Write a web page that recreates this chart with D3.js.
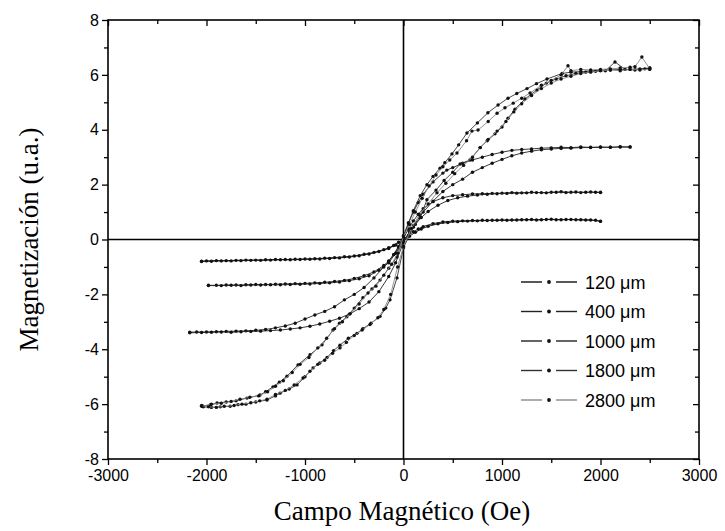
<!DOCTYPE html>
<html>
<head>
<meta charset="utf-8">
<script src="https://cdn.jsdelivr.net/npm/d3@7"></script>
<style>
  body { margin: 0; background: #fff; }
</style>
</head>
<body>
<script>
// hysteresis loops, field (Oe) vs magnetization (u.a.)
// each sample: descending branch (+H -> -H) and ascending branch (-H -> +H)
var desc120 = [[2000,0.67],[1900,0.71],[1800,0.72],[1700,0.73],[1600,0.72],[1500,0.74],[1400,0.72],[1300,0.73],[1200,0.72],[1100,0.71],[1000,0.71],[900,0.70],[800,0.70],[700,0.69],[600,0.68],[500,0.67],[400,0.64],[300,0.58],[200,0.47],[150,0.38],[100,0.28],[50,0.15],[0,0.02],[-50,-0.10],[-100,-0.22],[-150,-0.30],[-200,-0.37],[-300,-0.47],[-400,-0.54],[-500,-0.60],[-600,-0.63],[-700,-0.66],[-800,-0.68],[-900,-0.70],[-1000,-0.71],[-1100,-0.72],[-1200,-0.73],[-1300,-0.73],[-1400,-0.74],[-1500,-0.75],[-1600,-0.75],[-1700,-0.76],[-1800,-0.77],[-1900,-0.77],[-2000,-0.78],[-2050,-0.79]];
var asc120 = [[-2050,-0.80],[-1950,-0.79],[-1850,-0.78],[-1750,-0.78],[-1650,-0.77],[-1550,-0.76],[-1450,-0.76],[-1350,-0.75],[-1250,-0.74],[-1150,-0.74],[-1050,-0.73],[-950,-0.72],[-850,-0.71],[-750,-0.69],[-650,-0.67],[-550,-0.64],[-450,-0.59],[-350,-0.53],[-250,-0.44],[-150,-0.33],[-80,-0.20],[0,-0.05],[60,0.12],[120,0.26],[180,0.38],[250,0.48],[350,0.57],[450,0.62],[550,0.65],[650,0.67],[750,0.68],[850,0.69],[950,0.70],[1050,0.70],[1150,0.71],[1250,0.72],[1350,0.71],[1450,0.73],[1550,0.72],[1650,0.73],[1750,0.72],[1850,0.71],[1950,0.70],[2000,0.66]];

var desc400 = [[2000,1.72],[1900,1.73],[1800,1.71],[1700,1.72],[1600,1.74],[1500,1.72],[1400,1.71],[1300,1.72],[1200,1.70],[1100,1.71],[1000,1.69],[900,1.68],[800,1.67],[700,1.66],[600,1.63],[500,1.60],[400,1.52],[300,1.38],[200,1.12],[150,0.92],[100,0.68],[50,0.38],[0,0.05],[-50,-0.30],[-100,-0.55],[-150,-0.78],[-200,-0.95],[-300,-1.18],[-400,-1.32],[-500,-1.42],[-600,-1.49],[-700,-1.53],[-800,-1.56],[-900,-1.58],[-1000,-1.60],[-1100,-1.61],[-1200,-1.62],[-1300,-1.63],[-1400,-1.64],[-1500,-1.64],[-1600,-1.65],[-1700,-1.66],[-1800,-1.66],[-1900,-1.67],[-1980,-1.67]];
var asc400 = [[-1980,-1.68],[-1850,-1.68],[-1750,-1.67],[-1650,-1.68],[-1550,-1.66],[-1450,-1.66],[-1350,-1.65],[-1250,-1.65],[-1150,-1.64],[-1050,-1.63],[-950,-1.62],[-850,-1.60],[-750,-1.58],[-650,-1.55],[-550,-1.50],[-450,-1.43],[-350,-1.32],[-250,-1.12],[-150,-0.85],[-80,-0.50],[0,-0.10],[60,0.28],[120,0.55],[180,0.80],[250,1.02],[350,1.25],[450,1.42],[550,1.52],[650,1.58],[750,1.62],[850,1.65],[950,1.67],[1050,1.68],[1150,1.69],[1250,1.70],[1350,1.71],[1450,1.70],[1550,1.72],[1650,1.71],[1750,1.73],[1850,1.72],[1950,1.72],[2000,1.71]];

var desc1000 = [[2300,3.37],[2200,3.38],[2100,3.36],[2000,3.37],[1900,3.36],[1800,3.37],[1700,3.35],[1600,3.36],[1500,3.34],[1400,3.33],[1300,3.30],[1200,3.28],[1100,3.25],[1000,3.18],[900,3.10],[800,3.00],[700,2.90],[600,2.78],[500,2.62],[440,2.53],[400,2.42],[300,2.10],[200,1.65],[150,1.35],[100,1.00],[50,0.60],[0,0.10],[-50,-0.25],[-100,-0.55],[-150,-0.80],[-200,-1.00],[-300,-1.40],[-400,-1.75],[-500,-2.00],[-600,-2.20],[-700,-2.45],[-800,-2.62],[-900,-2.75],[-1000,-2.90],[-1100,-3.05],[-1200,-3.15],[-1300,-3.22],[-1400,-3.28],[-1500,-3.31],[-1600,-3.33],[-1700,-3.34],[-1800,-3.35],[-1900,-3.36],[-2000,-3.37],[-2100,-3.37],[-2170,-3.38]];
var asc1000 = [[-2170,-3.40],[-2050,-3.39],[-1950,-3.38],[-1850,-3.37],[-1750,-3.38],[-1650,-3.36],[-1550,-3.35],[-1450,-3.34],[-1350,-3.32],[-1250,-3.30],[-1150,-3.26],[-1050,-3.22],[-950,-3.16],[-850,-3.08],[-750,-2.98],[-650,-2.87],[-550,-2.72],[-450,-2.52],[-350,-2.28],[-250,-1.90],[-150,-1.35],[-80,-0.85],[0,-0.10],[100,0.50],[200,1.00],[300,1.40],[400,1.75],[500,2.00],[600,2.20],[700,2.45],[800,2.62],[900,2.78],[1000,2.92],[1100,3.05],[1200,3.15],[1300,3.22],[1400,3.27],[1500,3.30],[1600,3.32],[1700,3.33],[1800,3.35],[1900,3.35],[2000,3.36],[2100,3.36],[2200,3.37],[2300,3.37]];

var desc1800 = [[2500,6.25],[2400,6.22],[2300,6.20],[2200,6.20],[2100,6.18],[2000,6.17],[1900,6.15],[1800,6.12],[1700,6.10],[1610,6.05],[1457,5.85],[1350,5.68],[1254,5.50],[1150,5.32],[1061,5.15],[960,4.90],[857,4.62],[750,4.25],[644,3.88],[560,3.45],[492,3.12],[420,2.80],[371,2.60],[300,2.30],[238,2.00],[170,1.60],[100,1.05],[50,0.60],[0,0.15],[-66,-0.64],[-150,-1.05],[-238,-1.48],[-320,-1.80],[-412,-2.12],[-500,-2.50],[-575,-2.82],[-650,-3.05],[-716,-3.30],[-827,-3.84],[-949,-4.20],[-1071,-4.57],[-1183,-4.98],[-1260,-5.20],[-1325,-5.37],[-1400,-5.55],[-1457,-5.67],[-1589,-5.78],[-1700,-5.88],[-1800,-5.92],[-1893,-5.96],[-1960,-6.02],[-2033,-6.08]];
var asc1800 = [[-2033,-6.10],[-1950,-6.12],[-1860,-6.10],[-1760,-6.08],[-1680,-6.02],[-1600,-6.00],[-1500,-5.92],[-1386,-5.85],[-1300,-5.70],[-1254,-5.60],[-1160,-5.45],[-1081,-5.30],[-1000,-5.00],[-918,-4.68],[-850,-4.50],[-776,-4.30],[-710,-4.05],[-645,-3.85],[-560,-3.60],[-472,-3.42],[-412,-3.25],[-330,-3.05],[-238,-2.80],[-180,-2.50],[-137,-2.20],[-66,-1.40],[0,-0.30],[100,0.45],[170,0.80],[238,1.45],[330,1.80],[412,2.15],[500,2.45],[575,2.75],[675,2.90],[777,3.35],[850,3.60],[929,3.85],[1000,4.10],[1061,4.42],[1132,4.75],[1233,5.12],[1355,5.45],[1450,5.70],[1550,5.85],[1650,5.97],[1750,6.05],[1850,6.10],[1950,6.13],[2050,6.15],[2147,6.47],[2250,6.20],[2350,6.18],[2450,6.22],[2500,6.25]];

var desc2800 = [[2500,6.22],[2420,6.65],[2350,6.30],[2300,6.28],[2200,6.25],[2100,6.22],[2000,6.20],[1900,6.18],[1800,6.20],[1700,6.15],[1670,6.33],[1600,6.00],[1500,5.80],[1400,5.62],[1285,5.34],[1200,5.15],[1114,4.97],[1030,4.80],[950,4.60],[860,4.30],[757,3.99],[695,3.95],[640,3.60],[543,3.15],[470,2.90],[400,2.65],[330,2.35],[260,1.95],[190,1.50],[120,1.00],[60,0.55],[0,0.10],[-60,-0.50],[-120,-0.90],[-200,-1.30],[-280,-1.70],[-360,-1.95],[-450,-2.35],[-540,-2.70],[-620,-3.00],[-700,-3.25],[-780,-3.60],[-870,-3.95],[-960,-4.30],[-1050,-4.55],[-1130,-4.85],[-1220,-5.15],[-1300,-5.35],[-1380,-5.55],[-1470,-5.70],[-1560,-5.75],[-1660,-5.82],[-1750,-5.90],[-1850,-5.97],[-1950,-6.00],[-2050,-6.08]];
var asc2800 = [[-2050,-6.05],[-1980,-6.10],[-1900,-6.12],[-1820,-6.08],[-1720,-6.05],[-1640,-6.00],[-1550,-5.95],[-1460,-5.88],[-1386,-5.82],[-1300,-5.65],[-1200,-5.50],[-1110,-5.30],[-1020,-5.05],[-950,-4.80],[-870,-4.55],[-800,-4.40],[-720,-4.15],[-645,-3.95],[-580,-3.75],[-500,-3.50],[-420,-3.30],[-340,-3.10],[-260,-2.85],[-200,-2.55],[-130,-2.00],[-60,-1.00],[0,-0.25],[80,0.40],[160,0.90],[250,1.30],[340,1.70],[430,2.05],[520,2.40],[610,2.70],[700,3.00],[780,3.35],[860,3.65],[950,3.95],[1040,4.30],[1120,4.65],[1200,4.95],[1300,5.25],[1400,5.50],[1500,5.70],[1600,5.85],[1700,5.95],[1800,6.05],[1900,6.10],[2000,6.15],[2100,6.18],[2200,6.15],[2300,6.20],[2400,6.18],[2500,6.20]];

var labels = ["120 \u03bcm", "400 \u03bcm", "1000 \u03bcm", "1800 \u03bcm", "2800 \u03bcm"];
var loops = [[desc120, asc120], [desc400, asc400], [desc1000, asc1000], [desc1800, asc1800], [desc2800, asc2800]];
var lineColors = ["#111", "#222", "#222", "#333", "#888"];

var xTicks = [-3000, -2000, -1000, 0, 1000, 2000, 3000];
var xMinor = [-2500, -1500, -500, 500, 1500, 2500];
var yTicks = [-8, -6, -4, -2, 0, 2, 4, 6, 8];
var yMinor = [-7, -5, -3, -1, 1, 3, 5, 7];

var w = 725;
var h = 531;
var svg = d3.select("body").append("svg")
            .attr("width", w)
            .attr("height", h);

var x = d3.scaleLinear().domain([-3000, 3000]).range([108, 699]);
var y = d3.scaleLinear().domain([-8, 8]).range([459, 20]);

var sans = "'Liberation Sans', Arial, sans-serif";
var serif = "'Liberation Serif', 'Times New Roman', serif";
var plain = function(d) { return String(d); };   // hyphen minus like the original

// axes
function styleAxis(g) {
  g.select(".domain").remove();
  g.selectAll("line").attr("stroke", "#000").attr("stroke-width", 1.3);
  g.selectAll("text").attr("font-family", sans).attr("font-size", 16).attr("fill", "#000");
}

svg.append("g").attr("transform", "translate(0,459)")
   .call(d3.axisBottom(x).tickValues(xTicks).tickSize(6).tickPadding(5).tickFormat(plain))
   .call(styleAxis);
svg.append("g").attr("transform", "translate(0,459)")
   .call(d3.axisBottom(x).tickValues(xMinor).tickSize(4).tickFormat(""))
   .call(styleAxis);
svg.append("g").attr("transform", "translate(108,0)")
   .call(d3.axisLeft(y).tickValues(yTicks).tickSize(6).tickPadding(3).tickFormat(plain))
   .call(styleAxis);
svg.append("g").attr("transform", "translate(108,0)")
   .call(d3.axisLeft(y).tickValues(yMinor).tickSize(4).tickFormat(""))
   .call(styleAxis);
// mirror axes, ticks pointing in
svg.append("g").attr("transform", "translate(0,20)")
   .call(d3.axisTop(x).tickValues(xTicks).tickSize(-6).tickFormat(""))
   .call(styleAxis);
svg.append("g").attr("transform", "translate(0,20)")
   .call(d3.axisTop(x).tickValues(xMinor).tickSize(-4).tickFormat(""))
   .call(styleAxis);
svg.append("g").attr("transform", "translate(699,0)")
   .call(d3.axisRight(y).tickValues(yTicks).tickSize(-6).tickFormat(""))
   .call(styleAxis);
svg.append("g").attr("transform", "translate(699,0)")
   .call(d3.axisRight(y).tickValues(yMinor).tickSize(-4).tickFormat(""))
   .call(styleAxis);

// frame
svg.append("rect")
   .attr("x", 108).attr("y", 20)
   .attr("width", 699 - 108).attr("height", 459 - 20)
   .attr("fill", "none").attr("stroke", "#000").attr("stroke-width", 1.6);

// zero lines
svg.append("line")
   .attr("x1", x(-3000)).attr("x2", x(3000))
   .attr("y1", y(0)).attr("y2", y(0))
   .attr("stroke", "#000").attr("stroke-width", 1.6);
svg.append("line")
   .attr("x1", x(0)).attr("x2", x(0))
   .attr("y1", y(-8)).attr("y2", y(8))
   .attr("stroke", "#000").attr("stroke-width", 1.6);

// curves
var line = d3.line().x(function(d) { return x(d[0]); }).y(function(d) { return y(d[1]); });

loops.forEach(function(branches, i) {
  branches.forEach(function(b) {
    svg.append("path")
       .attr("d", line(b))
       .attr("fill", "none")
       .attr("stroke", lineColors[i])
       .attr("stroke-width", 0.9);
    svg.append("g").selectAll("circle")
       .data(b)
       .enter().append("circle")
       .attr("cx", function(d) { return x(d[0]); })
       .attr("cy", function(d) { return y(d[1]); })
       .attr("r", 1.7)
       .attr("fill", "#111");
  });
});

// legend
var legend = svg.append("g");
labels.forEach(function(t, i) {
  var ly = 282 + i * 29.5;
  legend.append("line").attr("x1", 521).attr("x2", 542).attr("y1", ly).attr("y2", ly)
        .attr("stroke", lineColors[i]).attr("stroke-width", 1.4);
  legend.append("line").attr("x1", 556).attr("x2", 577).attr("y1", ly).attr("y2", ly)
        .attr("stroke", lineColors[i]).attr("stroke-width", 1.4);
  legend.append("circle").attr("cx", 549).attr("cy", ly).attr("r", 1.9).attr("fill", "#111");
  legend.append("text").attr("x", 585).attr("y", ly + 6.5)
        .attr("font-family", sans).attr("font-size", 18).attr("fill", "#000")
        .text(t);
});

// axis titles
svg.append("text")
   .attr("x", 402).attr("y", 520)
   .attr("text-anchor", "middle")
   .attr("font-family", serif).attr("font-size", 27)
   .text("Campo Magn\u00e9tico (Oe)");
svg.append("text")
   .attr("transform", "translate(38," + y(0) + ") rotate(-90)")
   .attr("text-anchor", "middle")
   .attr("font-family", serif).attr("font-size", 27)
   .text("Magnetizaci\u00f3n (u.a.)");
</script>
</body>
</html>
